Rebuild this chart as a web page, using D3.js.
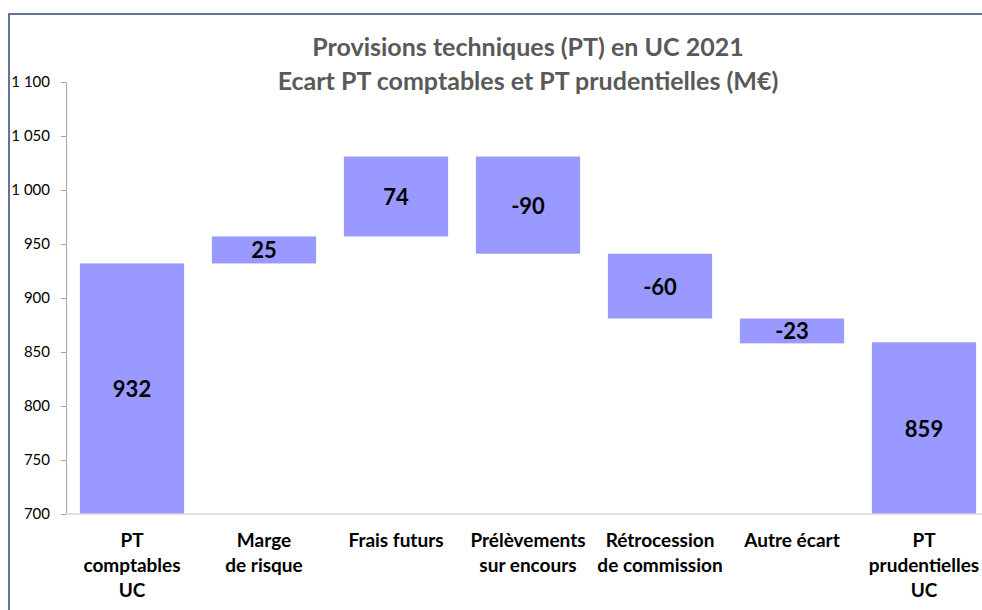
<!DOCTYPE html>
<html>
<head>
<meta charset="utf-8">
<script src="https://cdn.jsdelivr.net/npm/d3@7"></script>
<style>
  body { margin: 0; background: #fff; }
  svg { display: block; font-family: Lato, "Open Sans", sans-serif; }
</style>
</head>
<body>
<svg id="chart" width="982" height="610"></svg>
<script>
const categories = [
    ['PT', 'comptables', 'UC'],
    ['Marge', 'de risque'],
    ['Frais futurs'],
    ['Prélèvements', 'sur encours'],
    ['Rétrocession', 'de commission'],
    ['Autre écart'],
    ['PT', 'prudentielles', 'UC']
];
const startTotal = 932;
const deltas = [25, 74, -90, -60, -23];
const endTotal = 859;
const yTicks = [700, 750, 800, 850, 900, 950, 1000, 1050, 1100];
const titleLines = ['Provisions techniques (PT) en UC 2021', 'Ecart PT comptables et PT prudentielles (M€)'];

// build waterfall steps
let run = startTotal;
const bars = [{ i: 0, lo: 700, hi: startTotal, label: startTotal }];
deltas.forEach((d, k) => {
    const next = run + d;
    bars.push({ i: k + 1, lo: Math.min(run, next), hi: Math.max(run, next), label: d });
    run = next;
});
bars.push({ i: categories.length - 1, lo: 700, hi: endTotal, label: endTotal });

const svg = d3.select('#chart');

// outer frame
svg.append('rect')
    .attr('x', 9).attr('y', 14)
    .attr('width', 990).attr('height', 620)
    .attr('fill', 'none')
    .attr('stroke', '#2f4778')
    .attr('stroke-width', 1.5);

const x = d3.scaleBand()
    .domain(d3.range(categories.length))
    .range([66, 990])
    .paddingInner(0.21)
    .paddingOuter(0.105);

const y = d3.scaleLinear()
    .domain([700, 1100])
    .range([514, 82]);

const fmt = v => d3.format(',')(v).replace(/,/g, ' ');

// y axis
const yAxis = svg.append('g')
    .attr('transform', 'translate(66,0)')
    .call(d3.axisLeft(y).tickValues(yTicks).tickSize(5).tickPadding(11).tickFormat(fmt));
yAxis.select('.domain').attr('stroke', '#a6a6a6');
yAxis.selectAll('.tick line').attr('stroke', '#a6a6a6');
yAxis.selectAll('.tick text')
    .attr('fill', '#000')
    .attr('font-size', 15)
    .attr('font-family', 'Lato, sans-serif');

// bars
svg.append('g').selectAll('rect')
    .data(bars)
    .join('rect')
    .attr('x', d => x(d.i))
    .attr('y', d => y(d.hi))
    .attr('width', x.bandwidth())
    .attr('height', d => y(d.lo) - y(d.hi))
    .attr('fill', '#9999ff');

// x baseline
svg.append('line')
    .attr('x1', 66).attr('x2', 990)
    .attr('y1', y(700)).attr('y2', y(700))
    .attr('stroke', '#d9d9d9')
    .attr('stroke-width', 1.5);

// value labels
svg.append('g').selectAll('text')
    .data(bars)
    .join('text')
    .attr('x', d => x(d.i) + x.bandwidth() / 2)
    .attr('y', d => (y(d.lo) + y(d.hi)) / 2)
    .attr('text-anchor', 'middle')
    .attr('dominant-baseline', 'central')
    .attr('font-size', 22)
    .attr('font-weight', 'bold')
    .attr('fill', '#000')
    .text(d => d.label);

// category labels
const catG = svg.append('g').selectAll('text')
    .data(categories)
    .join('text')
    .attr('x', (d, i) => x(i) + x.bandwidth() / 2)
    .attr('y', 547)
    .attr('text-anchor', 'middle')
    .attr('font-size', 19)
    .attr('font-weight', 'bold')
    .attr('fill', '#000');
catG.selectAll('tspan')
    .data(d => d)
    .join('tspan')
    .attr('x', function() { return d3.select(this.parentNode).attr('x'); })
    .attr('dy', (d, k) => k === 0 ? 0 : 25)
    .text(d => d);

// title
svg.append('g').selectAll('text')
    .data(titleLines)
    .join('text')
    .attr('x', 528)
    .attr('y', (d, i) => 56 + i * 34)
    .attr('text-anchor', 'middle')
    .attr('font-size', 25)
    .attr('font-weight', 'bold')
    .attr('fill', '#595959')
    .text(d => d);
</script>
</body>
</html>
